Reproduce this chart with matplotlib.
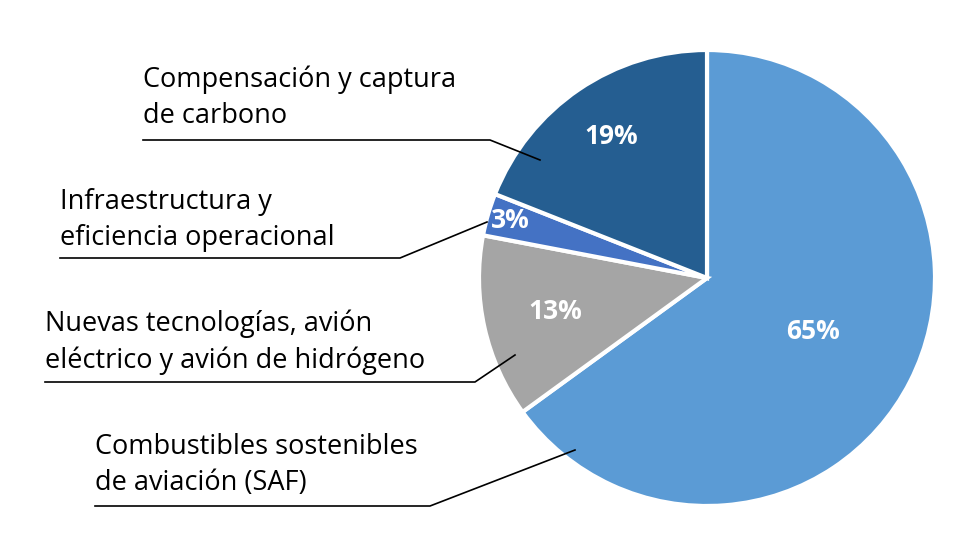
import numpy as np
import matplotlib.pyplot as plt
from matplotlib.lines import Line2D

categories = ['Combustibles sostenibles\nde aviación (SAF)',
              'Nuevas tecnologías, avión\neléctrico y avión de hidrógeno',
              'Infraestructura y\neficiencia operacional',
              'Compensación y captura\nde carbono']
values = [65, 13, 3, 19]
colors = ['#5B9BD5', '#A5A5A5', '#4472C4', '#255E91']

plt.rcParams['font.family'] = ['Open Sans', 'DejaVu Sans']

W, H = 980, 560
fig = plt.figure(figsize=(W / 100, H / 100), dpi=100)
cx, cy, r = 707, 278, 228
ax = fig.add_axes([(cx - r) / W, 1 - (cy + r) / H, 2 * r / W, 2 * r / H])
wedges, _ = ax.pie(values, colors=colors, startangle=90, counterclock=False,
                   wedgeprops=dict(edgecolor='white', linewidth=3))
ax.set_xlim(-1, 1)
ax.set_ylim(-1, 1)
ax.set_aspect('equal')

# percentage labels, radial distance per wedge
dists = [0.52, 0.68, 0.9, 0.75]
for w, v, d in zip(wedges, values, dists):
    a = np.deg2rad((w.theta1 + w.theta2) / 2)
    ax.text(d * np.cos(a), d * np.sin(a), f'{v}%', color='white',
            fontsize=19, fontweight='bold', ha='center', va='center')

# side labels with underline leader lines (pixel coords)
def px(x, y):
    return x / W, 1 - y / H

label_pos = [(95, 465, 430, 506, 575, 450),
             (45, 342, 475, 382, 515, 355),
             (60, 220, 400, 258, 487, 222),
             (143, 98, 490, 140, 540, 160)]
for text, (tx, ty, ux, uy, ex, ey) in zip(categories, label_pos):
    fig.text(*px(tx, ty), text, fontsize=19.5, ha='left', va='center',
             linespacing=1.4)
    xs = [tx, ux, ex]
    ys = [uy, uy, ey]
    fig.add_artist(Line2D([x / W for x in xs], [1 - y / H for y in ys],
                          color='black', linewidth=1.2))

fig.savefig('out.png', dpi=100)
